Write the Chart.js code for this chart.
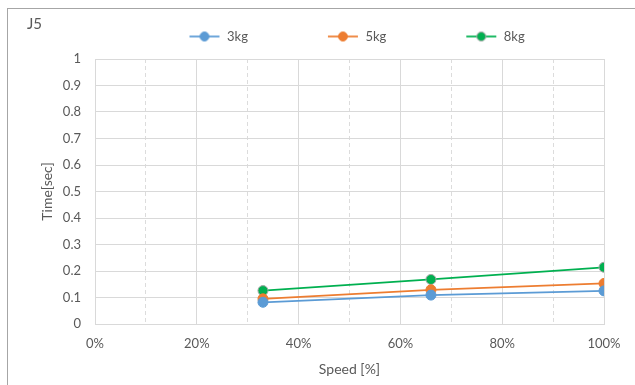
<!DOCTYPE html>
<html>
<head>
<meta charset="utf-8">
<script src="https://cdn.jsdelivr.net/npm/chart.js@4/dist/chart.umd.min.js"></script>
<style>
  html, body { margin: 0; padding: 0; background: #fff; }
  #wrap { position: relative; width: 635px; height: 385px; overflow: hidden; }
  #frame { position: absolute; left: 7px; top: 8px; width: 700px; height: 400px;
           border-left: 1px solid #a6a6a6; border-top: 1px solid #a6a6a6; }
  canvas { position: absolute; left: 0; top: 0; }
</style>
</head>
<body>
<div id="wrap">
  <div id="frame"></div>
  <canvas id="c" width="635" height="385"></canvas>
</div>
<script>
// ---- data ----
const chartTitle = 'J5';
const seriesNames = ['3kg', '5kg', '8kg'];
const speeds = [33, 66, 100];            // Speed [%]
const time3kg = [0.082, 0.109, 0.125];
const time5kg = [0.095, 0.129, 0.153];
const time8kg = [0.126, 0.168, 0.214];
const seriesColors = ['#5B9BD5', '#ED7D31', '#00B050'];
const markerBorders = ['#5B9BD5', '#ED7D31', '#A5A5A5'];
const yTickLabels = ['0', '0.1', '0.2', '0.3', '0.4', '0.5', '0.6', '0.7', '0.8', '0.9', '1'];
const xTickLabels = ['0%', '20%', '40%', '60%', '80%', '100%'];
const xTitle = 'Speed [%]';
const yTitle = 'Time[sec]';

const allSeries = [time3kg, time5kg, time8kg];

Chart.defaults.font.family = 'Lato, "Open Sans", sans-serif';
Chart.defaults.font.size = 13;
Chart.defaults.color = '#595959';

// legend marker images (line with dot at the right side of the box)
const LEG_BOX = 102;
function legendImage(color, border) {
  const cv = document.createElement('canvas');
  cv.width = LEG_BOX; cv.height = 14;
  const g = cv.getContext('2d');
  g.strokeStyle = color; g.lineWidth = 1.75;
  g.beginPath(); g.moveTo(LEG_BOX - 31, 7); g.lineTo(LEG_BOX - 1, 7); g.stroke();
  g.beginPath(); g.arc(LEG_BOX - 16, 7, 4.5, 0, Math.PI * 2);
  g.fillStyle = color; g.fill();
  g.lineWidth = 1; g.strokeStyle = border; g.stroke();
  return cv;
}
const legendImgs = seriesColors.map((c, i) => legendImage(c, markerBorders[i]));

const datasets = seriesNames.map((name, i) => ({
  label: name,
  data: speeds.map((s, j) => ({ x: s, y: allSeries[i][j] })),
  borderColor: seriesColors[i],
  backgroundColor: seriesColors[i],
  pointBackgroundColor: seriesColors[i],
  pointBorderColor: markerBorders[i],
  pointBorderWidth: 1,
  pointRadius: 5,
  borderWidth: 1.75,
  tension: 0,
  fill: false
}));

const legendShift = {
  id: 'legendShift',
  afterLayout(chart) {
    const lg = chart.legend;
    if (!lg) return;
    lg.left = 109.5;
    lg.top = 21;
  }
};

new Chart(document.getElementById('c'), {
  type: 'line',
  data: { datasets },
  plugins: [legendShift],
  options: {
    responsive: false,
    animation: false,
    layout: { padding: { left: 27, right: 31, top: 0, bottom: 0 } },
    plugins: {
      title: {
        display: true, text: chartTitle, align: 'start',
        font: { size: 15, weight: 'normal' }, color: '#595959',
        padding: { top: 15, bottom: 0 }
      },
      legend: {
        display: true, position: 'top', align: 'start', maxHeight: 26,
        labels: {
          usePointStyle: true, pointStyleWidth: LEG_BOX, padding: 9,
          color: '#595959', font: { size: 13 },
          generateLabels(chart) {
            const items = Chart.defaults.plugins.legend.labels.generateLabels(chart);
            items.forEach((it, i) => { it.pointStyle = legendImgs[i]; });
            return items;
          }
        }
      },
      tooltip: { enabled: false }
    },
    scales: {
      x: {
        type: 'linear', min: 0, max: 100,
        afterFit(s) { s.height = 61; },
        ticks: {
          stepSize: 10, autoSkip: false, maxRotation: 0, padding: 12,
          callback(v) { return v % 20 === 0 ? xTickLabels[v / 20] : ''; }
        },
        grid: {
          drawTicks: false,
          color(ctx) { return (ctx.tick && ctx.tick.value % 20 !== 0) ? '#dcdcdc' : '#d9d9d9'; },
          lineWidth: 1
        },
        border: {
          display: true, color: '#d9d9d9',
          dash(ctx) { return (ctx.tick && ctx.tick.value % 20 !== 0) ? [4, 3] : []; }
        },
        title: { display: true, text: xTitle, color: '#595959', font: { size: 14 }, padding: { top: 0, bottom: 7 } }
      },
      y: {
        min: 0, max: 1,
        afterFit(s) { s.width = 68; },
        ticks: {
          stepSize: 0.1, padding: 14,
          callback(v, i) { return yTickLabels[i]; }
        },
        grid: { drawTicks: false, color: '#d9d9d9', lineWidth: 1 },
        border: { display: false },
        title: { display: true, text: yTitle, color: '#595959', font: { size: 14 }, padding: { top: 12, bottom: 0 } }
      }
    }
  }
});
</script>
</body>
</html>
